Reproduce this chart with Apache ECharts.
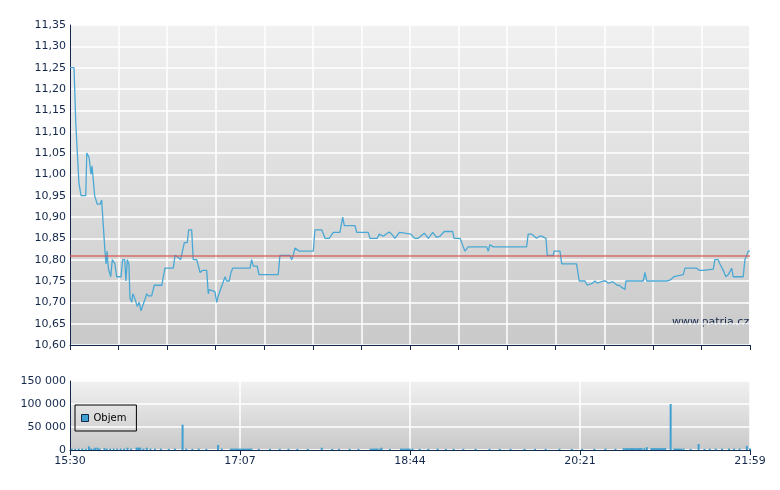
<!DOCTYPE html>
<html>
<head>
<meta charset="utf-8">
<script src="https://cdn.jsdelivr.net/npm/echarts@6/dist/echarts.min.js"></script>
<style>
  html, body { margin: 0; padding: 0; background: #fff; }
  #chart { width: 780px; height: 490px; }
</style>
</head>
<body>
<div id="chart"></div>
<script>
// minuty od 15:30
var priceTimes = [
    0, 2.3, 3.3, 4.2, 5.1, 6.3, 9, 9.6, 10.9, 12,
    12.6, 13.3, 14.1, 14.9, 15.6, 17.2, 18.1, 20, 20.6, 21.2,
    21.9, 23.3, 24.2, 25.2, 25.7, 26.7, 29.2, 30.1, 31.3, 32,
    32.8, 33.7, 34.3, 35.3, 35.9, 37, 38.5, 39.6, 40.6, 41.6,
    42.3, 43.9, 44.8, 46.7, 48.2, 52.5, 54.3, 59.1, 60.1, 61.9,
    63.3, 65.4, 67.1, 67.9, 69.6, 70.5, 72.5, 74.4, 75.9, 78.2,
    79.1, 79.7, 82.9, 83.9, 84.8, 85.8, 88.7, 89.6, 91.1, 92.1,
    93.1, 103, 103.9, 104.9, 107.1, 108.1, 119.1, 120.1, 125.8, 126.8,
    127.7, 128.7, 131.2, 139.2, 140.1, 144, 145.9, 148.3, 150.6, 154.4,
    156, 156.9, 163, 164, 170.6, 171.6, 175.8, 176.9, 179.2, 182.5,
    184, 185.9, 188.4, 191.6, 195, 197.2, 199.2, 202.7, 205, 207.5,
    209.7, 211.6, 214.1, 218.9, 219.7, 223.1, 224.1, 225, 225.9, 227.8,
    238.3, 239.3, 240.2, 242.1, 261.2, 262.1, 264.1, 266.9, 268.5, 269.8,
    272.3, 273, 276.5, 276.9, 280.3, 281.3, 285, 286, 289.8, 291.3,
    294.6, 295.9, 299, 300.3, 301.6, 305, 306.4, 307.9, 310.4, 313,
    314.2, 315.6, 317.5, 318, 327.9, 328.9, 329.9, 341.3, 343.2, 345.5,
    350.8, 351.8, 358.5, 360, 362.3, 363.2, 368, 368.9, 370.8, 371.8,
    373.7, 375.2, 376.6, 377.5, 378.5, 379.4, 381, 385.1, 386.1, 387.1, 388, 389
];
var prices = [
    11.25, 11.25, 11.12, 11.05, 10.98, 10.95, 10.95, 11.05, 11.04, 11.00,
    11.02, 11.02, 10.95, 10.95, 10.93, 10.93, 10.94, 10.82, 10.79, 10.82,
    10.78, 10.76, 10.80, 10.80, 10.79, 10.76, 10.76, 10.80, 10.80, 10.75,
    10.80, 10.79, 10.71, 10.70, 10.72, 10.71, 10.69, 10.70, 10.68, 10.68,
    10.70, 10.72, 10.715, 10.715, 10.74, 10.74, 10.78, 10.78, 10.81, 10.805,
    10.80, 10.84, 10.84, 10.87, 10.87, 10.80, 10.80, 10.77, 10.775, 10.775,
    10.72, 10.73, 10.725, 10.70, 10.715, 10.715, 10.76, 10.75, 10.75, 10.77,
    10.78, 10.78, 10.80, 10.785, 10.785, 10.765, 10.765, 10.81, 10.81, 10.80,
    10.81, 10.827, 10.82, 10.82, 10.87, 10.87, 10.85, 10.85, 10.864, 10.864,
    10.90, 10.88, 10.88, 10.864, 10.864, 10.85, 10.85, 10.86, 10.855, 10.865,
    10.86, 10.85, 10.864, 10.862, 10.86, 10.85, 10.85, 10.862, 10.85, 10.864,
    10.852, 10.855, 10.866, 10.866, 10.85, 10.85, 10.84, 10.84, 10.82, 10.83,
    10.83, 10.82, 10.835, 10.83, 10.83, 10.86, 10.86, 10.85, 10.855, 10.855,
    10.85, 10.81, 10.81, 10.82, 10.82, 10.79, 10.79, 10.792, 10.79, 10.75,
    10.75, 10.74, 10.745, 10.75, 10.745, 10.75, 10.75, 10.745, 10.748, 10.74,
    10.74, 10.735, 10.73, 10.75, 10.75, 10.77, 10.75, 10.75, 10.752, 10.76,
    10.765, 10.78, 10.78, 10.775, 10.775, 10.778, 10.778, 10.80, 10.80, 10.79,
    10.775, 10.76, 10.765, 10.765, 10.78, 10.76, 10.76, 10.76, 10.80, 10.80, 10.82, 10.82
];
var refPrice = 10.81;

var volTimes = [1, 3, 5, 7, 9, 10.8, 12, 13.5, 14.5, 15.8, 17, 19.7, 21, 23, 25, 27, 29, 31, 32.9, 35, 38.1, 38.8, 39.5, 40.2, 42, 43.9, 46, 48.6, 52, 56.5, 60, 64.4, 66.5, 70, 73.6, 78, 84.7, 86.8, 92, 93, 94, 95, 96, 97, 98, 99, 100, 101, 102, 103, 103.8, 108, 114.4, 120, 125, 130.1, 136, 144, 150, 153.8, 160, 165, 172, 173, 174, 175, 176, 177.5, 178.2, 183, 189.3, 190.3, 191.3, 192.3, 193.3, 194.3, 195.9, 200, 205, 210.3, 215, 219.5, 225, 232, 240, 245.8, 252, 260, 266, 272.1, 280, 287, 293, 300, 306.3, 312, 316.8, 318, 319, 320, 321, 322, 323, 324, 325, 326, 327, 328.6, 330, 332.6, 333.6, 334.6, 335.6, 336.6, 337.6, 338.6, 339.6, 340.5, 343.6, 345.7, 346.7, 347.7, 348.7, 349.7, 351, 355, 359.6, 363, 366, 369.4, 373, 377, 379.9, 383, 387.2, 389];
var volumes = [3000, 2500, 3000, 3000, 2500, 8000, 3000, 3000, 5000, 5000, 3000, 4000, 3000, 3000, 3000, 3000, 3000, 3000, 5000, 3000, 5000, 5000, 5000, 5000, 3000, 5000, 3000, 3000, 3000, 2500, 3000, 55000, 3000, 2500, 3000, 2500, 11000, 3000, 3000, 3000, 3000, 3000, 3000, 3000, 3000, 3000, 3000, 3000, 3000, 3000, 3000, 2500, 2500, 2500, 2500, 2500, 2500, 5000, 2500, 2500, 2500, 2500, 3000, 3000, 3000, 3000, 3000, 3000, 5000, 2500, 3000, 3000, 3000, 3000, 3000, 3000, 3000, 2500, 2500, 3000, 2500, 2500, 2500, 2500, 2500, 2500, 2500, 2500, 2500, 2500, 2500, 2500, 2500, 2500, 3000, 2500, 4000, 4000, 4000, 4000, 4000, 4000, 4000, 4000, 4000, 4000, 4000, 4000, 6000, 4000, 4000, 4000, 4000, 4000, 4000, 4000, 4000, 4000, 100000, 3000, 3000, 3000, 3000, 3000, 3000, 2500, 13000, 2500, 3000, 3000, 3000, 3000, 3000, 3000, 9000, 3000];

var yPriceTicks = [10.60, 11.35, 0.05];
var yVolTicks = [0, 150000, 50000];
var sessionLen = 389;

var priceData = priceTimes.map(function (t, i) { return [t, prices[i]]; });
var volData = volTimes.map(function (t, i) { return [t, volumes[i]]; });

var axisColor = '#14284b';
var txtFont = 'DejaVu Sans';

function timeLabel(v) {
    var m = 15 * 60 + 30 + Math.floor(v + 0.001);
    var h = Math.floor(m / 60), mm = m % 60;
    return h + ':' + (mm < 10 ? '0' : '') + mm;
}

function bg() {
    return new echarts.graphic.LinearGradient(0, 0, 0, 1, [
        { offset: 0, color: '#f1f1f1' },
        { offset: 1, color: '#c9c9c9' }
    ]);
}

var chart = echarts.init(document.getElementById('chart'));

var option = {
    backgroundColor: '#fff',
    animation: false,
    grid: [
        { left: 70, top: 25, width: 680, height: 320, show: true, backgroundColor: bg(), borderWidth: 0 },
        { left: 70, top: 381, width: 680, height: 69, show: true, backgroundColor: bg(), borderWidth: 0 }
    ],
    legend: {
        data: [{ name: 'Objem', icon: 'rect', itemStyle: { borderColor: '#14284b', borderWidth: 1 } }],
        left: 75, top: 405,
        orient: 'vertical',
        padding: [8, 10, 8, 6],
        borderColor: '#000', borderWidth: 1, borderRadius: 0,
        backgroundColor: 'transparent',
        itemWidth: 7, itemHeight: 7, itemGap: 4,
        textStyle: { fontFamily: txtFont, fontSize: 10, color: '#000' }
    },
    xAxis: [
        {
            gridIndex: 0, type: 'value', min: 0, max: sessionLen, interval: sessionLen / 14,
            axisLine: { show: true, lineStyle: { color: axisColor, width: 1 } },
            axisTick: { show: true, length: 5, lineStyle: { color: axisColor } },
            axisLabel: { show: false },
            splitLine: { show: true, lineStyle: { color: '#fff', width: 1.5 } }
        },
        {
            gridIndex: 1, type: 'value', min: 0, max: sessionLen, interval: sessionLen / 4,
            axisLine: { show: true, lineStyle: { color: axisColor, width: 1 } },
            axisTick: { show: true, length: 5, lineStyle: { color: axisColor } },
            axisLabel: { show: true, showMaxLabel: true, color: axisColor, fontFamily: txtFont, fontSize: 11, margin: 6, formatter: timeLabel },
            splitLine: { show: true, lineStyle: { color: '#fff', width: 1.5 } }
        }
    ],
    yAxis: [
        {
            gridIndex: 0, type: 'value', min: yPriceTicks[0], max: yPriceTicks[1], interval: yPriceTicks[2],
            axisLine: { show: true, lineStyle: { color: axisColor, width: 1 } },
            axisTick: { show: false },
            axisLabel: { color: axisColor, fontFamily: txtFont, fontSize: 11, margin: 4,
                formatter: function (v) { return v.toFixed(2).replace('.', ','); } },
            splitLine: { show: true, lineStyle: { color: '#fff', width: 1.5 } }
        },
        {
            gridIndex: 1, type: 'value', min: yVolTicks[0], max: yVolTicks[1], interval: yVolTicks[2],
            axisLine: { show: true, lineStyle: { color: axisColor, width: 1 } },
            axisTick: { show: false },
            axisLabel: { color: axisColor, fontFamily: txtFont, fontSize: 11, margin: 4,
                formatter: function (v) { return String(v).replace(/\B(?=(\d{3})+(?!\d))/g, ' '); } },
            splitLine: { show: true, lineStyle: { color: '#fff', width: 1.5 } }
        }
    ],
    graphic: [
        { type: 'text', left: 672, top: 317, style: { text: 'www.patria.cz', font: '11px ' + txtFont, fill: '#14284b' } }
    ],
    series: [
        {
            name: 'Cena', type: 'line', xAxisIndex: 0, yAxisIndex: 0,
            data: priceData, showSymbol: false, smooth: false,
            lineStyle: { color: '#4aa8d4', width: 1.3 },
            markLine: {
                silent: true, symbol: 'none', label: { show: false },
                lineStyle: { color: '#d9534f', width: 1.5, type: 'solid', opacity: 0.8 },
                data: [{ yAxis: refPrice }]
            }
        },
        {
            name: 'Objem', type: 'bar', xAxisIndex: 1, yAxisIndex: 1,
            data: volData, barWidth: 2,
            itemStyle: { color: '#3f9fcf' }
        }
    ]
};

chart.setOption(option);
</script>
</body>
</html>
